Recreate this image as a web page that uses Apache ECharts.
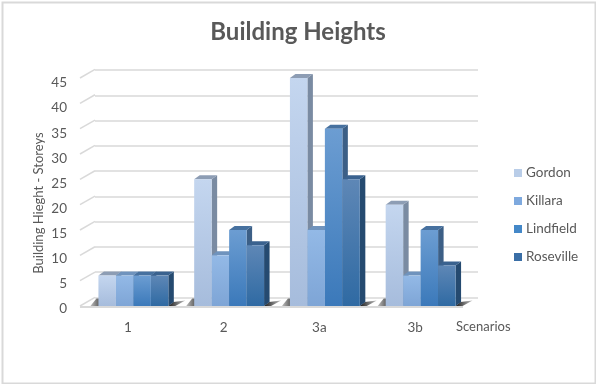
<!DOCTYPE html>
<html><head><meta charset="utf-8">
<style>html,body{margin:0;padding:0;background:#fff}#c{width:596px;height:384px}</style>
<script src="https://cdn.jsdelivr.net/npm/echarts@6/dist/echarts.min.js"></script>
</head><body><div id="c"></div>
<script>
const categories = ['1','2','3a','3b'];
const gordon    = [6,25,45,20];
const killara   = [6,10,15,6];
const lindfield = [6,15,35,15];
const roseville = [6,12,25,8];
const yTicks = [0,5,10,15,20,25,30,35,40,45];
const seriesNames = ['Gordon','Killara','Lindfield','Roseville'];
const seriesValues = [gordon,killara,lindfield,roseville];

const palette = [
 {legend:'#b9cde8',top:'#c4d6ef',bot:'#a6bcdc',side:'#7a8ba2',cap:'#8d9db4'},
 {legend:'#7ea9de',top:'#93b9e6',bot:'#7ea5d6',side:'#5f7fa6',cap:'#6f93bd'},
 {legend:'#4488c8',top:'#6c9dd2',bot:'#3b79ba',side:'#3c5f86',cap:'#47719f'},
 {legend:'#3a6ea6',top:'#5e87b6',bot:'#2f6aa3',side:'#254a70',cap:'#3a628f'}
];
const TXT='#595959', GRID='#d9d9d9', FONT='Lato, "Open Sans", sans-serif';
const DEPTH_X=15, DEPTH_Y=8.6, BAR_DX=5.5, BAR_DY=4, BAR_SHIFT=5.5, BAR_FRAC=0.1825;

function barItem(si){
  return function(params,api){
    const c=api.coord([api.value(0),api.value(1)]);
    const base=api.coord([api.value(0),0]);
    const w=api.size([1,0])[0]*BAR_FRAC;
    const x=c[0]+BAR_SHIFT-2*w+si*w, y=c[1], y0=base[1], p=palette[si];
    return {type:'group',children:[
      {type:'polygon',shape:{points:[[x+w,y],[x+w+BAR_DX,y-BAR_DY],[x+w+BAR_DX,y0-BAR_DY],[x+w,y0]]},style:{fill:p.side}},
      {type:'polygon',shape:{points:[[x,y],[x+BAR_DX,y-BAR_DY],[x+w+BAR_DX,y-BAR_DY],[x+w,y]]},style:{fill:p.cap}},
      {type:'rect',shape:{x:x,y:y,width:w,height:y0-y},style:{fill:{type:'linear',x:0,y:0,x2:0,y2:1,colorStops:[{offset:0,color:p.top},{offset:1,color:p.bot}]}}}
    ]};
  };
}
function shadowItem(params,api){
  const b=api.coord([api.value(0),0]);
  const w=api.size([1,0])[0]*BAR_FRAC;
  const x0=b[0]+BAR_SHIFT-2*w, x1=x0+4*w, y=b[1];
  const grad=(a,c)=>({type:'linear',x:0,y:0,x2:1,y2:0,colorStops:[{offset:0,color:a},{offset:1,color:c}]});
  return {type:'group',children:[
    {type:'polygon',shape:{points:[[x0-8,y],[x0-2,y-7.5],[x0+8,y-7.5],[x0+8,y]]},style:{fill:grad('#bdbdbd','#111111')}},
    {type:'polygon',shape:{points:[[x1,y],[x1+5,y-4],[x1+17,y-5.5],[x1+7,y]]},style:{fill:grad('#1a1a1a','#c4c4c4')}}
  ]};
}
function wallItem(params,api){
  const c=api.coord([0,api.value(0)]);
  const x=api.coord([0,0])[0]-api.size([1,0])[0]/2;
  return {type:'line',shape:{x1:x,y1:c[1],x2:x+DEPTH_X,y2:c[1]-DEPTH_Y},style:{stroke:GRID,lineWidth:1.5}};
}
function floorItem(params,api){
  const c0=api.coord([0,0]), c3=api.coord([3,0]), s=api.size([1,0])[0]/2;
  return {type:'line',shape:{x1:c0[0]-s,y1:c0[1]+1,x2:c3[0]+s,y2:c3[1]+1},style:{stroke:GRID,lineWidth:2}};
}

const series=[
 {name:'_back',type:'bar',xAxisIndex:1,yAxisIndex:1,data:[],silent:true},
 {name:'_wall',type:'custom',coordinateSystem:'cartesian2d',data:yTicks.map(v=>[v]),renderItem:wallItem,encode:{y:0},z:1,silent:true},
 {name:'_floor',type:'custom',coordinateSystem:'cartesian2d',data:[[0]],renderItem:floorItem,z:1,silent:true},
 {name:'_shadow',type:'custom',coordinateSystem:'cartesian2d',data:categories.map((c,i)=>[i]),renderItem:shadowItem,encode:{x:0},z:2,silent:true}
];
seriesNames.forEach((n,i)=>series.push({
  name:n,type:'custom',coordinateSystem:'cartesian2d',z:3,
  itemStyle:{color:palette[i].legend},
  data:categories.map((c,j)=>[j,seriesValues[i][j]]),
  encode:{x:0,y:1},renderItem:barItem(i)
}));

const chart=echarts.init(document.getElementById('c'),null,{renderer:'canvas'});
chart.setOption({
  animation:false,backgroundColor:'#fff',
  title:{text:'Building Heights',left:'center',top:15,textStyle:{fontFamily:FONT,fontSize:24,fontWeight:'bold',color:TXT}},
  legend:{data:seriesNames,orient:'vertical',left:514,top:166,padding:0,icon:'rect',itemWidth:8,itemHeight:8,itemGap:14,
    textStyle:{fontFamily:FONT,fontSize:13.5,color:TXT,padding:[0,0,0,-1]}},
  grid:[
    {left:80,width:383,top:78,height:228},
    {left:95,width:383,top:70,height:227.5},
    {left:80,width:383,top:83,height:226}
  ],
  xAxis:[
    {gridIndex:0,type:'category',data:categories,axisLine:{show:false},axisTick:{show:false},
     axisLabel:{margin:15,fontFamily:FONT,fontSize:13.5,color:TXT},
     name:'Scenarios',nameLocation:'end',nameGap:-7,
     nameTextStyle:{fontFamily:FONT,fontSize:13,color:TXT,align:'left',verticalAlign:'top',padding:[14,0,0,0]}},
    {gridIndex:1,type:'category',data:categories,show:false},
    {gridIndex:2,type:'category',data:categories,show:false}
  ],
  yAxis:[
    {gridIndex:0,type:'value',min:0,max:45,interval:5,axisLabel:{show:false},axisLine:{show:false},axisTick:{show:false},splitLine:{show:false}},
    {gridIndex:1,type:'value',min:0,max:45,interval:5,axisLabel:{show:false},axisLine:{show:false},axisTick:{show:false},
     splitLine:{show:true,lineStyle:{color:GRID,width:1.5}}},
    {gridIndex:2,type:'value',min:0,max:45,interval:5,axisLine:{show:false},axisTick:{show:false},splitLine:{show:false},
     axisLabel:{margin:13,fontFamily:FONT,fontSize:13.5,color:TXT}}
  ],
  graphic:[
    {type:'rect',left:0,top:0,shape:{x:1,y:1,width:593,height:381},style:{fill:'none',stroke:'#d9d9d9',lineWidth:2},silent:true},
    {type:'text',x:39,y:203,rotation:Math.PI/2,style:{text:'Building Hieght - Storeys',fontFamily:FONT,fontSize:13,fill:TXT,align:'center',verticalAlign:'middle'},silent:true}
  ],
  series:series
});
</script></body></html>
